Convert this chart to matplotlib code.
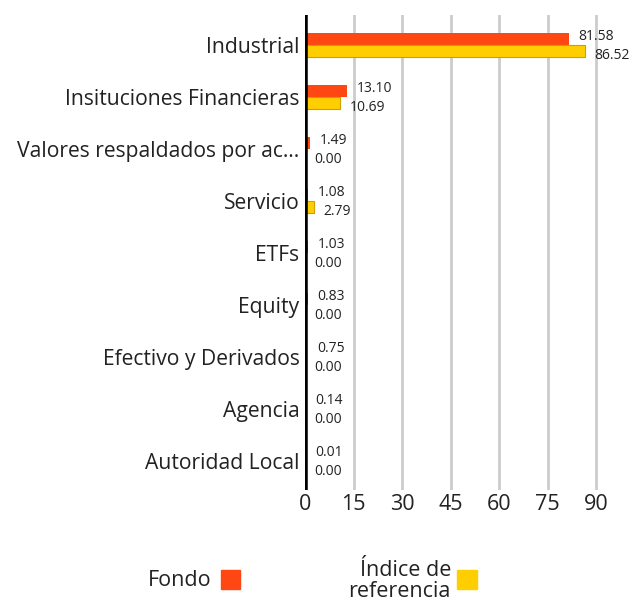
import matplotlib
matplotlib.use("Agg")
import matplotlib.pyplot as plt
from matplotlib.patches import Rectangle

plt.rcParams['font.family'] = ['Open Sans', 'DejaVu Sans']

categories = ["Industrial", "Insituciones Financieras", "Valores respaldados por ac…",
              "Servicio", "ETFs", "Equity", "Efectivo y Derivados", "Agencia",
              "Autoridad Local"]
fondo = [81.58, 13.10, 1.49, 1.08, 1.03, 0.83, 0.75, 0.14, 0.01]
indice = [86.52, 10.69, 0.00, 2.79, 0.00, 0.00, 0.00, 0.00, 0.00]
xticks = [0, 15, 30, 45, 60, 75, 90]
series_names = ["Fondo", "Índice de\nreferencia"]

RED = "#FF4713"
YEL = "#FFCE00"
YEL_EDGE = "#C9A200"

W, H = 632, 603
fig = plt.figure(figsize=(W / 100, H / 100), dpi=100)
ax = fig.add_axes([305 / W, 1 - 490 / H, (630 - 305) / W, (490 - 15) / H])

n = len(categories)
ys = list(range(n))
bh = 0.235
for i in ys:
    ax.barh(i - bh / 2, fondo[i], height=bh, color=RED, zorder=3)
    ax.barh(i + bh / 2, indice[i], height=bh, color=YEL, edgecolor=YEL_EDGE,
            linewidth=0.8, zorder=3)
    ax.annotate(f"{fondo[i]:.2f}", (fondo[i], i - bh / 2), xytext=(7, 2),
                textcoords="offset points", va="center", ha="left",
                fontsize=10, color="#222222")
    ax.annotate(f"{indice[i]:.2f}", (indice[i], i + bh / 2), xytext=(7, -3),
                textcoords="offset points", va="center", ha="left",
                fontsize=10, color="#222222")

ax.set_xlim(0, 100.5)
ax.set_ylim(n - 1 + 0.56, -0.58)
ax.set_xticks(xticks)
ax.set_xticklabels([str(t) for t in xticks], fontsize=15.5, color="#222222")
ax.set_yticks(ys)
ax.set_yticklabels(categories, fontsize=15.2, color="#222222")
ax.tick_params(axis="both", length=0, pad=4)
ax.tick_params(axis="x", pad=3)
for t in xticks[1:]:
    ax.axvline(t, color="#cccccc", linewidth=2, zorder=1)
ax.axvline(0, color="black", linewidth=4, zorder=4)
for s in ax.spines.values():
    s.set_visible(False)

# legend
fig.text(212 / W, 1 - 581 / H, series_names[0], ha="right", va="center",
         fontsize=15.5, color="#222222")
fig.patches.append(Rectangle((221 / W, 1 - 589 / H), 19 / W, 19 / H,
                             transform=fig.transFigure, color=RED))
fig.text(451 / W, 1 - 581 / H, series_names[1], ha="right", va="center",
         fontsize=15.5, color="#222222", linespacing=1.05, multialignment="right")
fig.patches.append(Rectangle((457 / W, 1 - 589 / H), 20 / W, 19 / H,
                             transform=fig.transFigure, color=YEL))

fig.savefig("out.png", dpi=100)
